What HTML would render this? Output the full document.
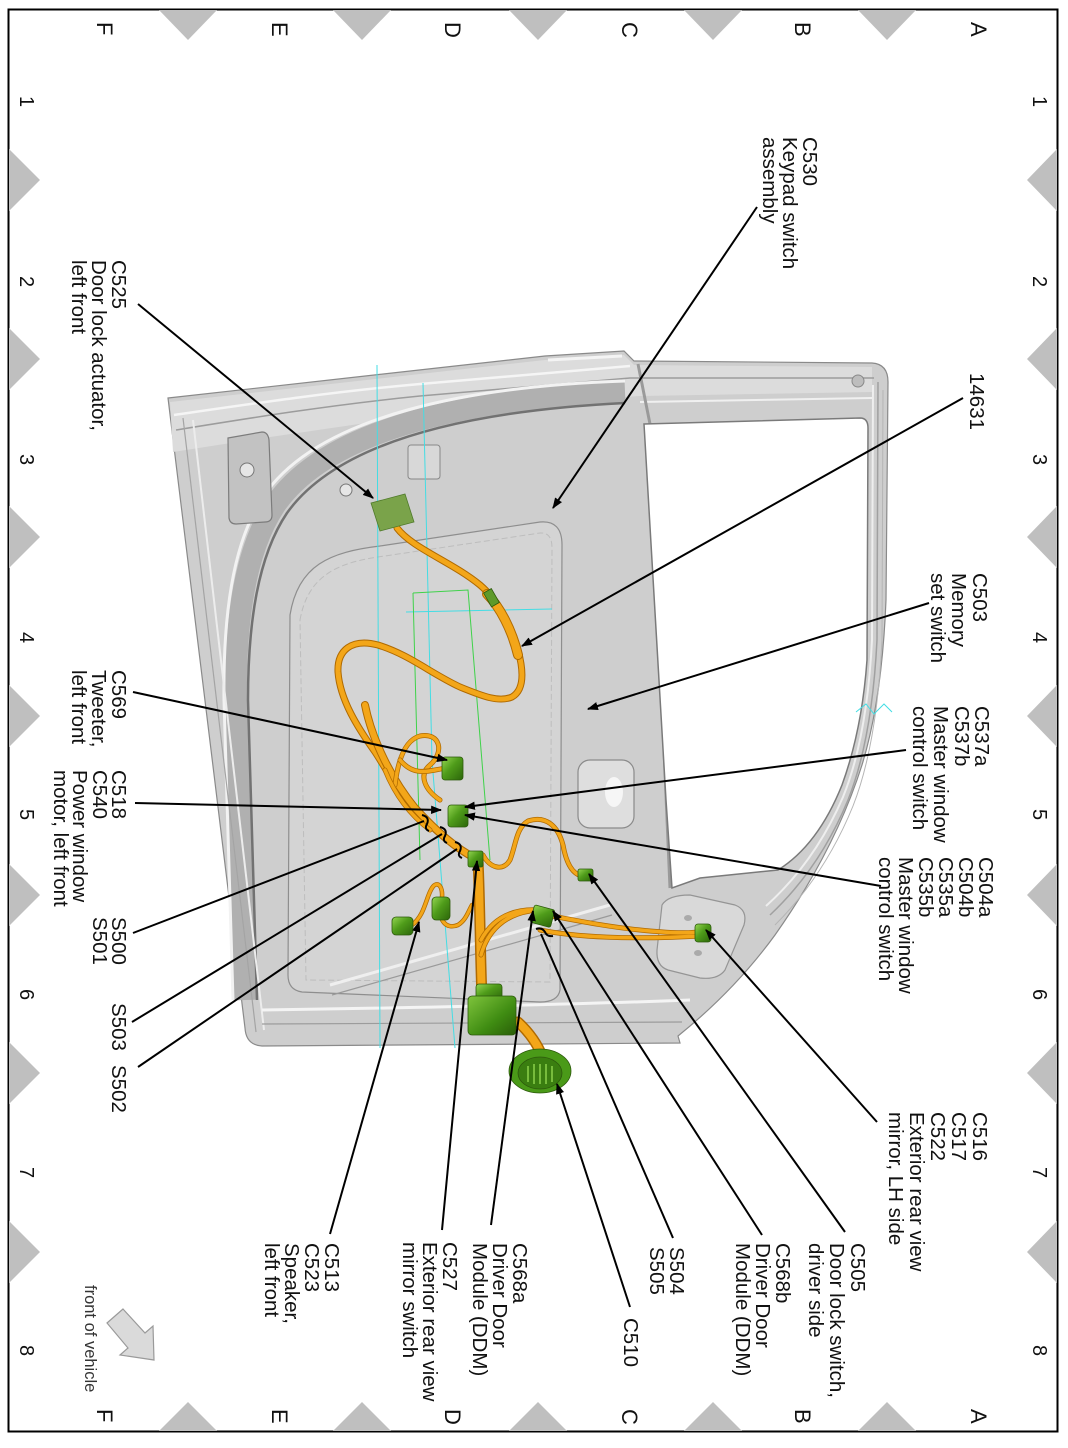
<!DOCTYPE html>
<html><head><meta charset="utf-8"><style>
html,body{margin:0;padding:0;background:#fff;}
svg{display:block;}
text{font-family:"Liberation Sans",Arial,sans-serif;fill:#111;}
.l{font-size:20.5px;}
.g{font-size:22px;}
.n{font-size:20px;}
.f{font-size:16.5px;fill:#333;}
.w{fill:none;stroke:#f3a619;stroke-linecap:round;stroke-linejoin:round;}
.wo{fill:none;stroke:#b06a00;stroke-linecap:round;stroke-linejoin:round;}
</style></head><body>
<svg width="1068" height="1448" viewBox="0 0 1068 1448" xmlns="http://www.w3.org/2000/svg">
<defs>
<marker id="ah" viewBox="0 0 10 10" refX="9" refY="5" markerWidth="5.5" markerHeight="5.5" orient="auto" markerUnits="strokeWidth"><path d="M0,1.2 L10,5 L0,8.8 Z" fill="#000"/></marker>
<linearGradient id="gc" x1="0" y1="0" x2="1" y2="1"><stop offset="0" stop-color="#95d652"/><stop offset="0.45" stop-color="#4f9c1a"/><stop offset="1" stop-color="#2c660a"/></linearGradient>
<linearGradient id="gr" x1="0" y1="0" x2="1" y2="1"><stop offset="0" stop-color="#7fc43c"/><stop offset="0.6" stop-color="#3f8c12"/><stop offset="1" stop-color="#2a5e08"/></linearGradient>
</defs>
<rect width="1068" height="1448" fill="#fff"/>

<!-- frame -->
<rect x="8.5" y="9.5" width="1049" height="1422" fill="none" stroke="#000" stroke-width="2"/>

<!-- triangles -->
<g fill="#bfbfbf">
<polygon points="159,10 217,10 188,40"/><polygon points="333,10 391,10 362,40"/><polygon points="509,10 567,10 538,40"/><polygon points="684,10 742,10 713,40"/><polygon points="858,10 916,10 887,40"/>
<polygon points="159,1431 217,1431 188,1402"/><polygon points="333,1431 391,1431 362,1402"/><polygon points="509,1431 567,1431 538,1402"/><polygon points="684,1431 742,1431 713,1402"/><polygon points="858,1431 916,1431 887,1402"/>
<polygon points="9,149 9,211 40,180"/><polygon points="9,328 9,390 40,359"/><polygon points="9,506 9,568 40,537"/><polygon points="9,685 9,747 40,716"/><polygon points="9,864 9,926 40,895"/><polygon points="9,1042 9,1104 40,1073"/><polygon points="9,1221 9,1283 40,1252"/>
<polygon points="1057,149 1057,211 1027,180"/><polygon points="1057,328 1057,390 1027,359"/><polygon points="1057,506 1057,568 1027,537"/><polygon points="1057,685 1057,747 1027,716"/><polygon points="1057,864 1057,926 1027,895"/><polygon points="1057,1042 1057,1104 1027,1073"/><polygon points="1057,1221 1057,1283 1027,1252"/>
</g>

<!-- grid letters -->
<g class="g">
<text transform="translate(97,22) rotate(90)">F</text>
<text transform="translate(272,22) rotate(90)">E</text>
<text transform="translate(445,22) rotate(90)">D</text>
<text transform="translate(622,22) rotate(90)">C</text>
<text transform="translate(795,22) rotate(90)">B</text>
<text transform="translate(971,22) rotate(90)">A</text>
<text transform="translate(97,1409) rotate(90)">F</text>
<text transform="translate(272,1409) rotate(90)">E</text>
<text transform="translate(445,1409) rotate(90)">D</text>
<text transform="translate(622,1409) rotate(90)">C</text>
<text transform="translate(795,1409) rotate(90)">B</text>
<text transform="translate(971,1409) rotate(90)">A</text>
</g>
<g class="n">
<text transform="translate(20,96) rotate(90)">1</text>
<text transform="translate(20,276) rotate(90)">2</text>
<text transform="translate(20,454) rotate(90)">3</text>
<text transform="translate(20,632) rotate(90)">4</text>
<text transform="translate(20,809) rotate(90)">5</text>
<text transform="translate(20,989) rotate(90)">6</text>
<text transform="translate(20,1167) rotate(90)">7</text>
<text transform="translate(20,1345) rotate(90)">8</text>
<text transform="translate(1033,96) rotate(90)">1</text>
<text transform="translate(1033,276) rotate(90)">2</text>
<text transform="translate(1033,454) rotate(90)">3</text>
<text transform="translate(1033,632) rotate(90)">4</text>
<text transform="translate(1033,809) rotate(90)">5</text>
<text transform="translate(1033,989) rotate(90)">6</text>
<text transform="translate(1033,1167) rotate(90)">7</text>
<text transform="translate(1033,1345) rotate(90)">8</text>
</g>

<!-- DOOR -->
<g>
<path d="M168,398 L545,356 L624,351 L634,361 L872,363 Q888,364 888,382 L886,600 Q882,700 862,765 Q835,850 775,935 Q735,990 678,1036 L680,1043 L262,1046 Q246,1045 245,1028 Z" fill="#cecece" stroke="#8a8a8a" stroke-width="1.2"/>
<path d="M170,402 L545,360 L624,355 L634,365 L872,367 L872,392 L640,396 L540,402 L400,418 L250,440 L173,452 Z" fill="#dcdcdc"/>
<path d="M176,430 C250,418 330,405 420,396 L630,378 L874,378" stroke="#9c9c9c" stroke-width="1.5" fill="none"/>
<path d="M174,415 C250,404 330,392 420,384 L630,366" stroke="#f5f5f5" stroke-width="2.5" fill="none"/>
<path d="M640,402 L872,398" stroke="#f0f0f0" stroke-width="2" fill="none"/>
<path d="M548,360 L622,356" stroke="#f4f4f4" stroke-width="3" fill="none"/>
<circle cx="858" cy="381" r="6" fill="#bdbdbd" stroke="#888"/>

<!-- curved dark band -->
<path d="M625,392 C480,398 330,425 275,505 C245,550 235,620 236,700 L245,1000" stroke="#b0b0b0" stroke-width="22" fill="none"/>
<path d="M625,403 C485,410 342,436 287,513 C258,556 248,622 248,700 L257,1000" stroke="#727272" stroke-width="2.5" fill="none"/>
<path d="M625,381 C475,386 318,414 263,497 C232,544 223,618 224,700 L233,1000" stroke="#f2f2f2" stroke-width="3" fill="none"/>
<path d="M183,418 L256,1032" stroke="#a4a4a4" stroke-width="1.2" fill="none"/>
<path d="M193,420 L264,1030" stroke="#ececec" stroke-width="2" fill="none"/>

<!-- upper-left box & bolts -->
<path d="M228,438 L262,432 Q268,432 269,440 L272,515 Q272,522 265,522 L236,524 Q230,524 229,518 Z" fill="#c2c2c2" stroke="#7c7c7c" stroke-width="1.2"/>
<circle cx="247" cy="470" r="7" fill="#e6e6e6" stroke="#777"/>
<circle cx="346" cy="490" r="6" fill="#e6e6e6" stroke="#777"/>
<rect x="408" y="445" width="32" height="34" rx="3" fill="#d8d8d8" stroke="#888"/>

<!-- inner recess -->
<path d="M290,615 C298,565 330,552 380,546 L540,522 Q562,520 562,545 L560,990 Q558,1002 540,1002 L302,992 Q288,990 288,975 Z" fill="#d4d4d4" stroke="#8e8e8e" stroke-width="1.2"/>
<path d="M300,620 C308,575 338,562 385,556 L540,533 Q552,532 552,548 L550,982 L306,980 Z" fill="none" stroke="#bdbdbd" stroke-width="1" stroke-dasharray="6 3"/>

<!-- handle recess -->
<rect x="578" y="760" width="56" height="68" rx="12" fill="#dedede" stroke="#8a8a8a" stroke-width="1.2"/>
<ellipse cx="614" cy="792" rx="9" ry="15" fill="#f6f6f6"/>

<!-- mirror mount -->
<path d="M662,905 Q668,895 690,895 L735,905 Q748,910 744,925 L725,970 Q718,980 700,978 L668,970 Q656,966 657,950 Z" fill="#d9d9d9" stroke="#959595" stroke-width="1.2"/>
<ellipse cx="688" cy="918" rx="4" ry="3" fill="#aaa"/>
<ellipse cx="682" cy="936" rx="4" ry="3" fill="#aaa"/>
<ellipse cx="698" cy="953" rx="4" ry="3" fill="#aaa"/>

<!-- lower features -->
<path d="M330,985 L610,905" stroke="#efefef" stroke-width="3" fill="none"/>
<path d="M332,995 L612,915" stroke="#9a9a9a" stroke-width="1.2" fill="none"/>
<path d="M262,1010 C400,1008 560,1005 690,1000" stroke="#f4f4f4" stroke-width="3" fill="none"/>
<path d="M262,1024 L682,1022" stroke="#9c9c9c" stroke-width="1.2" fill="none"/>

<!-- pillar + window -->
<path d="M638,364 L650,424 L670,888" stroke="#9a9a9a" stroke-width="3" fill="none"/>
<path d="M644,424 L860,418 Q868,418 868,428 L867,660 Q862,730 842,785 Q818,845 778,870 L700,878 L672,888 L666,800 Z" fill="#fff" stroke="#7a7a7a" stroke-width="1.5"/>
<path d="M878,382 L877,640 Q872,740 848,800 Q820,868 770,915" stroke="#a0a0a0" stroke-width="1.5" fill="none"/>
<path d="M873,385 L872,640 Q867,738 843,797 Q815,862 766,906" stroke="#eeeeee" stroke-width="2" fill="none"/>
<path d="M883,390 L882,640 Q877,745 853,806 Q825,875 775,925" stroke="#b5b5b5" stroke-width="1" fill="none"/>
</g>

<!-- construction lines -->
<g fill="none" stroke-width="1">
<path d="M377,365 L380,1048" stroke="#43dde4"/>
<path d="M423,383 L432,760 L455,1048" stroke="#43dde4"/>
<path d="M406,612 L552,609" stroke="#43dde4"/>
<path d="M856,712 L866,704 L874,714 L884,704 L892,712" stroke="#43dde4"/>
<path d="M413,593 L468,590 L490,860 M413,593 L420,860" stroke="#3fd24a"/>
</g>

<!-- wires -->
<g>
<path class="wo" stroke-width="7" d="M397,528 C412,548 452,562 480,585 C500,602 512,628 518,650 C524,672 524,690 512,697 C498,703 480,695 460,687 C430,673 410,655 378,645 C352,638 337,650 338,672 C340,700 358,728 375,752 C390,775 402,800 420,815 C435,830 452,845 470,856"/>
<path class="w" stroke-width="5" d="M397,528 C412,548 452,562 480,585 C500,602 512,628 518,650 C524,672 524,690 512,697 C498,703 480,695 460,687 C430,673 410,655 378,645 C352,638 337,650 338,672 C340,700 358,728 375,752 C390,775 402,800 420,815 C435,830 452,845 470,856"/>
<path class="wo" stroke-width="10" d="M487,594 C500,607 512,630 518,655"/>
<path class="w" stroke-width="8" d="M487,594 C500,607 512,630 518,655"/>
<path class="wo" stroke-width="8" d="M365,705 C372,740 392,780 415,808 C435,830 455,848 475,858"/>
<path class="w" stroke-width="6" d="M365,705 C372,740 392,780 415,808 C435,830 455,848 475,858"/>
<path class="wo" stroke-width="5" d="M395,785 C398,760 405,740 420,736 C440,732 445,752 430,765 C418,775 425,790 440,800"/>
<path class="w" stroke-width="3.5" d="M395,785 C398,760 405,740 420,736 C440,732 445,752 430,765 C418,775 425,790 440,800"/>
<path class="wo" stroke-width="5" d="M400,760 C415,778 430,770 447,768"/>
<path class="w" stroke-width="3.5" d="M400,760 C415,778 430,770 447,768"/>
<path class="wo" stroke-width="5" d="M385,770 C395,795 410,815 430,830"/>
<path class="w" stroke-width="3.5" d="M385,770 C395,795 410,815 430,830"/>
<path class="wo" stroke-width="11" d="M478,860 C480,900 480,950 482,998"/>
<path class="w" stroke-width="8" d="M478,860 C480,900 480,950 482,998"/>
<path class="wo" stroke-width="11" d="M518,1022 C530,1033 538,1045 543,1058"/>
<path class="w" stroke-width="8" d="M518,1022 C530,1033 538,1045 543,1058"/>
<path class="wo" stroke-width="5" d="M483,855 C490,868 503,872 510,860 C516,845 516,828 528,821 C546,815 558,826 563,845 C566,862 572,874 582,876"/>
<path class="w" stroke-width="3.5" d="M483,855 C490,868 503,872 510,860 C516,845 516,828 528,821 C546,815 558,826 563,845 C566,862 572,874 582,876"/>
<path class="wo" stroke-width="5" d="M481,955 C488,930 505,915 530,911 M535,913 C565,918 600,926 640,930 C670,933 690,934 703,931 M540,930 C575,937 630,940 700,936 M481,940 C492,920 510,908 540,910"/>
<path class="w" stroke-width="3.5" d="M481,955 C488,930 505,915 530,911 M535,913 C565,918 600,926 640,930 C670,933 690,934 703,931 M540,930 C575,937 630,940 700,936 M481,940 C492,920 510,908 540,910"/>
<path class="wo" stroke-width="4.5" d="M412,925 C425,915 426,897 432,888 C437,880 445,885 441,905 C438,920 446,930 458,925 C466,920 468,912 472,905"/>
<path class="w" stroke-width="3" d="M412,925 C425,915 426,897 432,888 C437,880 445,885 441,905 C438,920 446,930 458,925 C466,920 468,912 472,905"/>
</g>

<!-- connectors -->
<g stroke="#2d5a0c" stroke-width="0.8">
<polygon points="371,503 405,494 414,522 380,531" fill="#7aa34a" stroke="#4f7a2a"/>
<rect x="487" y="590" width="9" height="16" fill="#5e9a2a" transform="rotate(-30 491 598)"/>
<rect x="442" y="757" width="21" height="23" rx="3" fill="url(#gc)"/>
<rect x="448" y="805" width="20" height="22" rx="3" fill="url(#gc)"/>
<rect x="468" y="851" width="15" height="16" rx="2" fill="url(#gc)"/>
<rect x="578" y="869" width="15" height="12" rx="2" fill="url(#gc)"/>
<rect x="532" y="907" width="21" height="18" rx="2" fill="url(#gc)" transform="rotate(15 542 916)"/>
<rect x="695" y="924" width="16" height="18" rx="3" fill="url(#gc)"/>
<rect x="392" y="917" width="21" height="18" rx="4" fill="url(#gc)"/>
<rect x="432" y="897" width="18" height="23" rx="4" fill="url(#gc)"/>
<rect x="476" y="984" width="26" height="16" rx="3" fill="url(#gc)"/>
<rect x="468" y="996" width="48" height="39" rx="4" fill="url(#gr)"/>
<ellipse cx="540" cy="1071" rx="31" ry="22" fill="#4a9a18"/>
<ellipse cx="540" cy="1073" rx="22" ry="16" fill="#3a7e10"/>
<path d="M528,1066 L528,1082 M534,1064 L534,1084 M540,1064 L540,1084 M546,1064 L546,1084 M552,1066 L552,1082" stroke="#8bd04a" stroke-width="1.5"/>
</g>

<!-- leader lines -->
<g stroke="#000" stroke-width="2" fill="none" marker-end="url(#ah)">
<line x1="757" y1="207" x2="553" y2="508"/>
<line x1="963" y1="398" x2="522" y2="646"/>
<line x1="929" y1="603" x2="588" y2="709"/>
<line x1="906" y1="750" x2="465" y2="807"/>
<line x1="881" y1="886" x2="465" y2="815"/>
<line x1="877" y1="1122" x2="706" y2="930"/>
<line x1="845" y1="1232" x2="589" y2="874"/>
<line x1="762" y1="1235" x2="553" y2="911"/>
<line x1="630" y1="1307" x2="557" y2="1084"/>
<line x1="491" y1="1225" x2="533" y2="911"/>
<line x1="442" y1="1230" x2="477" y2="861"/>
<line x1="330" y1="1234" x2="419" y2="922"/>
<line x1="138" y1="304" x2="373" y2="498"/>
<line x1="133" y1="692" x2="447" y2="760"/>
<line x1="135" y1="803" x2="441" y2="810"/>
</g>
<g stroke="#000" stroke-width="2" fill="none">
<line x1="673" y1="1238" x2="541" y2="934"/>
<line x1="133" y1="933" x2="424" y2="821"/>
<line x1="132" y1="1022" x2="442" y2="834"/>
<line x1="138" y1="1067" x2="457" y2="849"/>
<path d="M422,815 q8,2 5,9 q-3,5 2,7"/>
<path d="M440,827 q8,2 5,9 q-3,5 2,7"/>
<path d="M455,842 q8,2 5,9 q-3,5 2,7"/>
<path d="M536,929 q6,-2 9,3 q2,5 8,4"/>
</g>

<!-- labels -->
<g class="l">
<text transform="translate(803,137) rotate(90)">C530</text>
<text transform="translate(783,137) rotate(90)">Keypad switch</text>
<text transform="translate(763,137) rotate(90)">assembly</text>

<text transform="translate(970,373) rotate(90)">14631</text>

<text transform="translate(973,573) rotate(90)">C503</text>
<text transform="translate(952,573) rotate(90)">Memory</text>
<text transform="translate(931,573) rotate(90)">set switch</text>

<text transform="translate(975,706) rotate(90)">C537a</text>
<text transform="translate(955,706) rotate(90)">C537b</text>
<text transform="translate(934,706) rotate(90)">Master window</text>
<text transform="translate(913,706) rotate(90)">control switch</text>

<text transform="translate(979,857) rotate(90)">C504a</text>
<text transform="translate(959,857) rotate(90)">C504b</text>
<text transform="translate(939,857) rotate(90)">C535a</text>
<text transform="translate(919,857) rotate(90)">C535b</text>
<text transform="translate(899,857) rotate(90)">Master window</text>
<text transform="translate(879,857) rotate(90)">control switch</text>

<text transform="translate(973,1112) rotate(90)">C516</text>
<text transform="translate(952,1112) rotate(90)">C517</text>
<text transform="translate(931,1112) rotate(90)">C522</text>
<text transform="translate(910,1112) rotate(90)">Exterior rear view</text>
<text transform="translate(889,1112) rotate(90)">mirror, LH side</text>

<text transform="translate(851,1243) rotate(90)">C505</text>
<text transform="translate(830,1243) rotate(90)">Door lock switch,</text>
<text transform="translate(809,1243) rotate(90)">driver side</text>

<text transform="translate(776,1243) rotate(90)">C568b</text>
<text transform="translate(756,1243) rotate(90)">Driver Door</text>
<text transform="translate(736,1243) rotate(90)">Module (DDM)</text>

<text transform="translate(670,1247) rotate(90)">S504</text>
<text transform="translate(650,1247) rotate(90)">S505</text>

<text transform="translate(624,1318) rotate(90)">C510</text>

<text transform="translate(513,1243) rotate(90)">C568a</text>
<text transform="translate(493,1243) rotate(90)">Driver Door</text>
<text transform="translate(473,1243) rotate(90)">Module (DDM)</text>

<text transform="translate(443,1242) rotate(90)">C527</text>
<text transform="translate(423,1242) rotate(90)">Exterior rear view</text>
<text transform="translate(403,1242) rotate(90)">mirror switch</text>

<text transform="translate(325,1243) rotate(90)">C513</text>
<text transform="translate(305,1243) rotate(90)">C523</text>
<text transform="translate(285,1243) rotate(90)">Speaker,</text>
<text transform="translate(265,1243) rotate(90)">left front</text>

<text transform="translate(112,260) rotate(90)">C525</text>
<text transform="translate(92,260) rotate(90)">Door lock actuator,</text>
<text transform="translate(72,260) rotate(90)">left front</text>

<text transform="translate(112,670) rotate(90)">C569</text>
<text transform="translate(92,670) rotate(90)">Tweeter,</text>
<text transform="translate(72,670) rotate(90)">left front</text>

<text transform="translate(112,770) rotate(90)">C518</text>
<text transform="translate(93,770) rotate(90)">C540</text>
<text transform="translate(73,770) rotate(90)">Power window</text>
<text transform="translate(54,770) rotate(90)">motor, left front</text>

<text transform="translate(112,917) rotate(90)">S500</text>
<text transform="translate(93,917) rotate(90)">S501</text>

<text transform="translate(112,1003) rotate(90)">S503</text>
<text transform="translate(112,1065) rotate(90)">S502</text>
</g>

<!-- front of vehicle -->
<text class="f" transform="translate(85,1285) rotate(90)">front of vehicle</text>
<polygon points="123,1309 145,1333 153,1326 154,1360 120,1355 128,1348 107,1323" fill="#dadada" stroke="#9a9a9a" stroke-width="1.2"/>
</svg>
</body></html>
